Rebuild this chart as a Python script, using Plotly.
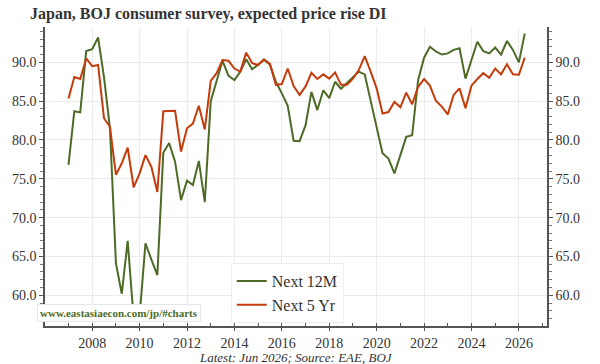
import plotly.graph_objects as go
import pandas as pd

dates = pd.date_range("2007-01-01", periods=78, freq="QS").strftime("%Y-%m-%d").tolist()

next_12m = [76.8, 83.7, 83.55, 91.45, 91.7, 93.2, 88.1, 81.5, 64.1, 60.2,
            67.0, 57.0, 57.3, 66.7, 64.6, 62.6, 78.35, 79.6, 77.2, 72.25,
            74.75, 74.2, 77.3, 72.0, 85.0, 87.7, 90.2, 88.3, 87.7, 88.8,
            90.4, 89.1, 89.65, 90.3, 89.74, 87.5, 86.0, 84.4, 79.9, 79.85,
            81.9, 86.2, 83.85, 86.4, 85.4, 87.5, 86.6, 87.3, 88.0, 88.8,
            88.45, 85.1, 81.8, 78.3, 77.6, 75.7, 78.05, 80.4, 80.6, 87.7,
            90.6, 92.0, 91.4, 91.0, 91.15, 91.6, 91.8, 87.9, 90.3, 92.65,
            91.45, 91.15, 91.9, 91.0, 92.75, 91.6, 90.0, 93.7]

next_5yr = [85.35, 88.1, 87.85, 90.5, 89.5, 89.65, 82.8, 81.7, 75.5, 77.0,
            79.0, 73.9, 75.7, 78.05, 76.55, 73.3, 83.7, 83.7, 83.75, 78.5,
            81.5, 82.1, 84.4, 81.35, 87.6, 88.6, 90.3, 90.2, 89.2, 88.8,
            91.25, 89.9, 89.65, 90.4, 89.8, 87.1, 87.2, 89.2, 86.95, 85.8,
            86.9, 88.65, 87.85, 88.45, 87.9, 88.7, 87.1, 87.1, 87.9, 89.0,
            90.8, 88.8, 86.65, 83.4, 83.6, 84.9, 84.2, 86.1, 84.6, 86.85,
            87.85, 87.0, 85.05, 84.3, 83.3, 85.8, 86.65, 84.1, 87.0, 87.85,
            88.6, 88.0, 89.2, 88.45, 89.75, 88.45, 88.4, 90.6]

series_names = ["Next 12M", "Next 5 Yr"]
colors = ["#4d6b26", "#c43c0c"]

y_range = [56.04, 94.55]
x_range = ["2006-01-04", "2027-03-10"]

FONT = "Liberation Serif"

fig = go.Figure()
fig.add_trace(go.Scatter(x=dates, y=next_12m, name=series_names[0], mode="lines",
                         line=dict(color=colors[0], width=2)))
fig.add_trace(go.Scatter(x=dates, y=next_5yr, name=series_names[1], mode="lines",
                         line=dict(color=colors[1], width=2)))
# invisible trace for the right axis
fig.add_trace(go.Scatter(x=dates, y=next_12m, yaxis="y2", mode="lines",
                         line=dict(width=0), opacity=0, showlegend=False, hoverinfo="skip"))

tickfont = dict(family=FONT, size=14, color="#333333")

fig.update_layout(
    width=600, height=364,
    margin=dict(l=34, r=53, t=27, b=38),
    paper_bgcolor="white", plot_bgcolor="white",
    title=dict(text="<b>Japan, BOJ consumer survey, expected price rise DI</b>",
               x=0.05, xanchor="left", y=0.962, yanchor="middle",
               font=dict(family=FONT, size=16, color="#333333")),
    xaxis=dict(type="date", range=x_range, showgrid=True, gridcolor="#ebebeb", gridwidth=1,
               dtick="M24", tick0="2008-01-01", tickformat="%Y",
               ticks="outside", ticklen=3, tickcolor="#555", tickwidth=1,
               showline=True, linecolor="#555", linewidth=1.5,
               minor=dict(dtick="M12", tick0="2007-01-01", ticks="inside", ticklen=3,
                          tickcolor="#555", showgrid=False),
               tickfont=tickfont, zeroline=False),
    yaxis=dict(range=y_range, dtick=5, tick0=60, tickformat=".1f", showgrid=True,
               gridcolor="#ebebeb", gridwidth=1, ticks="outside", ticklen=4,
               tickcolor="#555", showline=True, linecolor="#555", linewidth=1.5,
               minor=dict(dtick=1, ticks="outside", ticklen=3, tickcolor="#777", showgrid=False),
               tickfont=tickfont, zeroline=False),
    yaxis2=dict(range=y_range, dtick=5, tick0=60, tickformat=".1f", overlaying="y", side="right",
                showgrid=False, ticks="outside", ticklen=4, tickcolor="#555",
                showline=True, linecolor="#555", linewidth=1.5,
                minor=dict(dtick=1, ticks="outside", ticklen=3, tickcolor="#777"),
                tickfont=tickfont, zeroline=False),
    legend=dict(x=0.37, xanchor="left", y=0.01, yanchor="bottom",
                bgcolor="white", bordercolor="#eeeeee", borderwidth=1,
                font=dict(family=FONT, size=16, color="#333333"),
                itemwidth=30, tracegroupgap=0),
    showlegend=True,
)

fig.add_annotation(text="<b>www.eastasiaecon.com/jp/#charts</b>", xref="paper", yref="paper",
                   x=-0.016, y=0.012, xanchor="left", yanchor="bottom", showarrow=False,
                   font=dict(family=FONT, size=11, color="#4d6b26"),
                   bgcolor="white", bordercolor="#e6e6e6", borderwidth=1, borderpad=2)

fig.add_annotation(text="<i>Latest: Jun 2026; Source: EAE, BOJ</i>", xref="paper", yref="paper",
                   x=0.5, y=-0.105, xanchor="center", yanchor="middle", showarrow=False,
                   font=dict(family=FONT, size=13, color="#333333"))

fig.write_html("out.html")
